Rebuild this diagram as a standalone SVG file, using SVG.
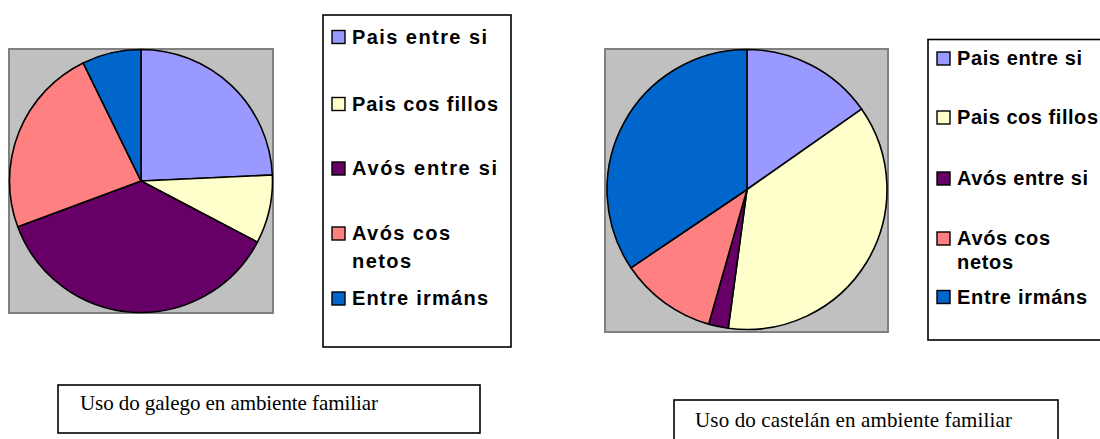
<svg xmlns="http://www.w3.org/2000/svg" width="1100" height="439" viewBox="0 0 1100 439">
<style>
.bg{fill:#C0C0C0;stroke:#808080;stroke-width:2}
.sl{stroke:#000;stroke-width:1.6;stroke-linejoin:round}
.c1{fill:#9999FF}.c2{fill:#FFFFCC}.c3{fill:#660066}.c4{fill:#FF8080}.c5{fill:#0066CC}
.box{fill:#fff;stroke:#000;stroke-width:1.6}
.sw{stroke:#000;stroke-width:1.4}
.lg{font-family:"Liberation Sans",Arial,sans-serif;font-weight:bold;font-size:20px;fill:#000}
.cap{font-family:"Liberation Serif","Times New Roman",serif;font-size:21px;fill:#000}
</style>
<rect width="1100" height="439" fill="#fff"/>

<g id="chart-galego">
<rect class="bg" x="9" y="49" width="264" height="264"/>
<path class="sl c1" d="M141,181 L141,49.5 A131.5,131.5 0 0 1 272.36,175.03 Z"/>
<path class="sl c2" d="M141,181 L272.36,175.03 A131.5,131.5 0 0 1 257.43,242.13 Z"/>
<path class="sl c3" d="M141,181 L257.43,242.13 A131.5,131.5 0 0 1 17.75,226.84 Z"/>
<path class="sl c4" d="M141,181 L17.75,226.84 A131.5,131.5 0 0 1 83.15,62.91 Z"/>
<path class="sl c5" d="M141,181 L83.15,62.91 A131.5,131.5 0 0 1 141,49.5 Z"/>
</g>

<g id="legend-galego">
<rect class="box" x="323" y="15" width="188" height="332"/>
<rect class="sw c1" x="332" y="30.5" width="13" height="13"/>
<text class="lg" x="352" y="43.5" textLength="135" lengthAdjust="spacing">Pais entre si</text>
<rect class="sw c2" x="332" y="97.5" width="13" height="13"/>
<text class="lg" x="352" y="110.5" textLength="146" lengthAdjust="spacing">Pais cos fillos</text>
<rect class="sw c3" x="332" y="162" width="13" height="13"/>
<text class="lg" x="352" y="175" textLength="145" lengthAdjust="spacing">Avós entre si</text>
<rect class="sw c4" x="332" y="227" width="13" height="13"/>
<text class="lg" x="352" y="240" textLength="98" lengthAdjust="spacing">Avós cos</text>
<text class="lg" x="352" y="268" textLength="59" lengthAdjust="spacing">netos</text>
<rect class="sw c5" x="332" y="292" width="13" height="13"/>
<text class="lg" x="352" y="305" textLength="136" lengthAdjust="spacing">Entre irmáns</text>
</g>

<g id="chart-castelan">
<rect class="bg" x="605" y="49" width="283" height="283"/>
<path class="sl c1" d="M747,189.5 L747,49.5 A140,140 0 0 1 861.56,109.03 Z"/>
<path class="sl c2" d="M747,189.5 L861.56,109.03 A140,140 0 0 1 728.24,328.24 Z"/>
<path class="sl c3" d="M747,189.5 L728.24,328.24 A140,140 0 0 1 708.65,324.14 Z"/>
<path class="sl c4" d="M747,189.5 L708.65,324.14 A140,140 0 0 1 630.93,267.79 Z"/>
<path class="sl c5" d="M747,189.5 L630.93,267.79 A140,140 0 0 1 747,49.5 Z"/>
</g>

<g id="legend-castelan">
<rect class="box" x="928" y="39.5" width="180" height="300.5"/>
<rect class="sw c1" x="937" y="52" width="13" height="13"/>
<text class="lg" x="957" y="65" textLength="125" lengthAdjust="spacing">Pais entre si</text>
<rect class="sw c2" x="937" y="111" width="13" height="13"/>
<text class="lg" x="957" y="124" textLength="141" lengthAdjust="spacing">Pais cos fillos</text>
<rect class="sw c3" x="937" y="172" width="13" height="13"/>
<text class="lg" x="957" y="185" textLength="131" lengthAdjust="spacing">Avós entre si</text>
<rect class="sw c4" x="937" y="232" width="13" height="13"/>
<text class="lg" x="957" y="245" textLength="93" lengthAdjust="spacing">Avós cos</text>
<text class="lg" x="957" y="268.5" textLength="56" lengthAdjust="spacing">netos</text>
<rect class="sw c5" x="937" y="290.5" width="13" height="13"/>
<text class="lg" x="957" y="303.5" textLength="130" lengthAdjust="spacing">Entre irmáns</text>
</g>

<g id="caption-galego">
<rect class="box" x="58" y="385" width="422" height="48"/>
<text class="cap" x="80" y="410" textLength="298" lengthAdjust="spacing">Uso do galego en ambiente familiar</text>
</g>

<g id="caption-castelan">
<rect class="box" x="674" y="400" width="384" height="46"/>
<text class="cap" x="695" y="427" textLength="317" lengthAdjust="spacing">Uso do castelán en ambiente familiar</text>
</g>

<g id="connectors"/>
</svg>
